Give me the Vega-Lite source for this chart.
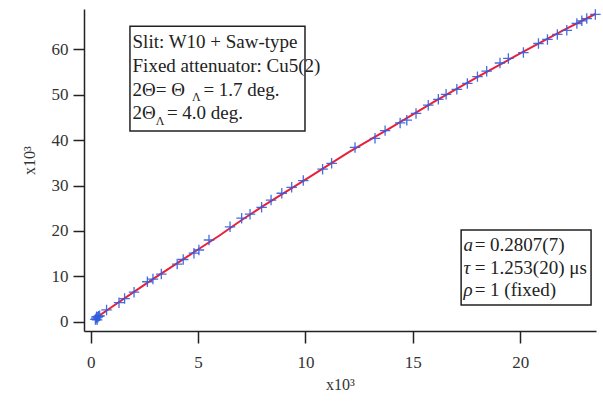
{
  "$schema": "https://vega.github.io/schema/vega-lite/v6.json",
  "width": 512,
  "height": 322,
  "autosize": "none",
  "padding": {"left": 84, "top": 9, "right": 7, "bottom": 70},
  "background": "white",
  "config": {
    "view": {"stroke": null},
    "font": "Liberation Serif, DejaVu Serif, serif",
    "axis": {
      "grid": false,
      "domainColor": "#222",
      "domainWidth": 1.5,
      "tickColor": "#222",
      "tickWidth": 1.5,
      "labelFont": "Liberation Serif, DejaVu Serif, serif",
      "labelFontSize": 17,
      "labelColor": "#333",
      "titleFont": "Liberation Serif, DejaVu Serif, serif",
      "titleFontSize": 16,
      "titleFontWeight": "normal",
      "titleColor": "#333"
    }
  },
  "datasets": {
    "pts": [
      {"x": 0.22, "y": 0.5}, {"x": 0.26, "y": 0.8}, {"x": 0.3, "y": 0.4}, {"x": 0.33, "y": 1.0},
      {"x": 0.37, "y": 1.2}, {"x": 0.42, "y": 1.3}, {"x": 0.28, "y": 1.1},
      {"x": 0.74, "y": 2.6}, {"x": 1.32, "y": 4.2}, {"x": 1.58, "y": 5.1}, {"x": 2.02, "y": 6.5},
      {"x": 2.64, "y": 8.8}, {"x": 2.9, "y": 9.4}, {"x": 3.29, "y": 10.5}, {"x": 4.03, "y": 12.7},
      {"x": 4.31, "y": 13.7}, {"x": 4.81, "y": 15.1}, {"x": 5.04, "y": 15.8}, {"x": 5.51, "y": 18.0},
      {"x": 6.49, "y": 20.9}, {"x": 7.03, "y": 22.8}, {"x": 7.42, "y": 23.7}, {"x": 7.96, "y": 25.2},
      {"x": 8.4, "y": 26.8}, {"x": 8.9, "y": 28.3}, {"x": 9.36, "y": 29.6}, {"x": 9.9, "y": 31.1},
      {"x": 10.8, "y": 33.6}, {"x": 11.22, "y": 34.9}, {"x": 12.31, "y": 38.4}, {"x": 13.24, "y": 40.4},
      {"x": 13.71, "y": 42.1}, {"x": 14.41, "y": 43.8}, {"x": 14.72, "y": 44.4}, {"x": 15.15, "y": 45.9},
      {"x": 15.72, "y": 47.7}, {"x": 16.19, "y": 49.0}, {"x": 16.55, "y": 50.1}, {"x": 17.05, "y": 51.2},
      {"x": 17.54, "y": 52.5}, {"x": 18.01, "y": 54.0}, {"x": 18.44, "y": 55.2}, {"x": 19.06, "y": 57.0},
      {"x": 19.45, "y": 58.0}, {"x": 20.15, "y": 59.3}, {"x": 20.85, "y": 61.3}, {"x": 21.27, "y": 62.2},
      {"x": 21.73, "y": 63.3}, {"x": 22.17, "y": 64.2}, {"x": 22.64, "y": 65.7}, {"x": 22.87, "y": 66.3},
      {"x": 23.1, "y": 66.8}, {"x": 23.5, "y": 67.7}
    ],
    "fit": [
      {"x": 0.15, "y": 0.5}, {"x": 1, "y": 3.3}, {"x": 2, "y": 6.5}, {"x": 3, "y": 9.7},
      {"x": 4, "y": 12.8}, {"x": 5, "y": 15.9}, {"x": 6, "y": 19.0}, {"x": 7, "y": 22.3},
      {"x": 8, "y": 25.4}, {"x": 10, "y": 31.3}, {"x": 12, "y": 37.3}, {"x": 14, "y": 42.8},
      {"x": 16, "y": 48.5}, {"x": 18, "y": 53.9}, {"x": 20, "y": 59.1}, {"x": 22, "y": 64.2},
      {"x": 23.5, "y": 67.8}
    ],
    "boxes": [
      {"x1": 1.83, "x2": 9.98, "y1": 42.0, "y2": 65.1},
      {"x1": 17.25, "x2": 23.3, "y1": 3.7, "y2": 20.2}
    ],
    "txt": [
      {"x": 1.95, "y": 61.6, "t": "Slit: W10 + Saw-type"},
      {"x": 1.95, "y": 56.3, "t": "Fixed attenuator: Cu5(2)"},
      {"x": 1.95, "y": 51.1, "t": "2Θ= Θ"},
      {"x": 5.25, "y": 51.1, "t": "= 1.7 deg."},
      {"x": 1.95, "y": 45.9, "t": "2Θ"},
      {"x": 3.55, "y": 45.9, "t": "= 4.0 deg."},
      {"x": 17.88, "y": 16.9, "t": "= 0.2807(7)"},
      {"x": 17.88, "y": 11.8, "t": "= 1.253(20) μs"},
      {"x": 17.88, "y": 7.0, "t": "= 1 (fixed)"}
    ],
    "sub": [
      {"x": 4.92, "y": 49.5, "t": "Λ"},
      {"x": 3.23, "y": 44.3, "t": "Λ"}
    ],
    "ital": [
      {"x": 17.36, "y": 16.9, "t": "a"},
      {"x": 17.36, "y": 11.8, "t": "τ"},
      {"x": 17.36, "y": 7.0, "t": "ρ"}
    ]
  },
  "layer": [
    {
      "data": {"name": "fit"},
      "mark": {"type": "line", "color": "#e8203a", "strokeWidth": 2, "clip": true},
      "encoding": {
        "x": {"field": "x", "type": "quantitative", "scale": {"domain": [-0.31, 23.53], "nice": false, "zero": false},
          "axis": {"values": [0, 5, 10, 15, 20], "tickSize": 12, "labelPadding": 11, "title": "x10³", "titlePadding": 6}},
        "y": {"field": "y", "type": "quantitative", "scale": {"domain": [-2.05, 68.9], "nice": false, "zero": false},
          "axis": {"values": [0, 10, 20, 30, 40, 50, 60], "tickSize": 11, "labelPadding": 5, "title": "x10³", "titlePadding": 14, "titleY": 151}}
      }
    },
    {
      "data": {"name": "pts"},
      "mark": {"type": "point", "shape": "M-1,0L1,0M0,-1L0,1", "stroke": "#2f5fe0", "strokeWidth": 1.3, "filled": false, "size": 110, "opacity": 0.9},
      "encoding": {
        "x": {"field": "x", "type": "quantitative"},
        "y": {"field": "y", "type": "quantitative"}
      }
    },
    {
      "data": {"name": "boxes"},
      "mark": {"type": "rect", "fill": null, "stroke": "#222", "strokeWidth": 1.5},
      "encoding": {
        "x": {"field": "x1", "type": "quantitative"},
        "x2": {"field": "x2"},
        "y": {"field": "y1", "type": "quantitative"},
        "y2": {"field": "y2"}
      }
    },
    {
      "data": {"name": "txt"},
      "mark": {"type": "text", "align": "left", "baseline": "middle", "fontSize": 19, "font": "Liberation Serif, DejaVu Serif, serif", "color": "#222"},
      "encoding": {
        "x": {"field": "x", "type": "quantitative"},
        "y": {"field": "y", "type": "quantitative"},
        "text": {"field": "t"}
      }
    },
    {
      "data": {"name": "sub"},
      "mark": {"type": "text", "align": "center", "baseline": "middle", "fontSize": 12, "font": "Liberation Serif, DejaVu Serif, serif", "color": "#222"},
      "encoding": {
        "x": {"field": "x", "type": "quantitative"},
        "y": {"field": "y", "type": "quantitative"},
        "text": {"field": "t"}
      }
    },
    {
      "data": {"name": "ital"},
      "mark": {"type": "text", "align": "left", "baseline": "middle", "fontSize": 19, "fontStyle": "italic", "font": "Liberation Serif, DejaVu Serif, serif", "color": "#222"},
      "encoding": {
        "x": {"field": "x", "type": "quantitative"},
        "y": {"field": "y", "type": "quantitative"},
        "text": {"field": "t"}
      }
    }
  ]
}
